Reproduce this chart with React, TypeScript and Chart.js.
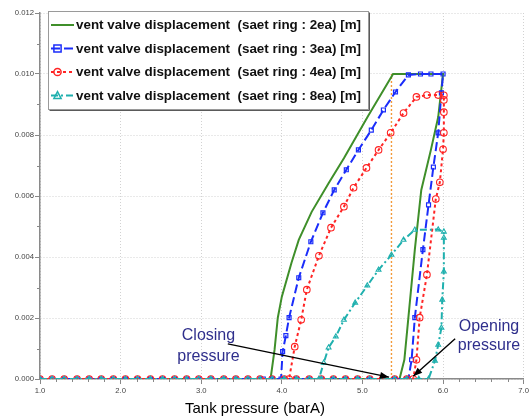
import React, { useEffect, useRef } from 'react';
import { Chart, registerables } from 'chart.js';

Chart.register(...registerables);

// ---------- data ----------
const SERIES_LABELS = [
  'vent valve displacement  (saet ring : 2ea) [m]',
  'vent valve displacement  (saet ring : 3ea) [m]',
  'vent valve displacement  (saet ring : 4ea) [m]',
  'vent valve displacement  (saet ring : 8ea) [m]',
];

// sampled tank pressures along the closed-valve baseline (displacement 0)
const BASE_X = [
  1.0, 1.15, 1.3, 1.46, 1.61, 1.76, 1.91, 2.06, 2.21, 2.37, 2.52, 2.67, 2.82, 2.97,
  3.12, 3.28, 3.43, 3.58, 3.73, 3.88, 4.03, 4.18, 4.34, 4.49, 4.64, 4.79, 4.94,
  5.09, 5.25, 5.4, 5.55, 5.7,
];

// saet ring : 2ea
const RING2_X = [5.46, 5.52, 5.57, 5.65, 5.73, 5.85, 5.94, 6.0, 5.38, 5.07, 4.77, 4.58, 4.37, 4.21, 4.12, 4.0, 3.95, 3.91, 3.86];
const RING2_Y = [0, 0.00063, 0.00201, 0.00424, 0.0062, 0.00752, 0.00859, 0.01, 0.01, 0.00862, 0.00724, 0.00642, 0.00548, 0.00456, 0.00381, 0.0027, 0.00201, 0.00096, 0];

// saet ring : 3ea
const RING3_X = [5.57, 5.61, 5.65, 5.75, 5.82, 5.88, 5.94, 5.98, 6.0, 5.85, 5.72, 5.57, 5.41, 5.26, 5.11, 4.95, 4.8, 4.65, 4.51, 4.36, 4.21, 4.09, 4.05, 4.01, 3.99, 3.88, 3.77];
const RING3_Y = [0, 0.00063, 0.00201, 0.00424, 0.00571, 0.00695, 0.00807, 0.00938, 0.01, 0.01, 0.01, 0.00997, 0.00941, 0.00882, 0.00816, 0.00751, 0.00686, 0.0062, 0.00545, 0.0045, 0.00332, 0.00201, 0.00142, 0.0009, 0, 0, 0];

// saet ring : 4ea
const RING4_X = [5.63, 5.67, 5.71, 5.8, 5.91, 5.96, 6.0, 6.01, 6.01, 6.01, 6.01, 5.94, 5.8, 5.67, 5.51, 5.35, 5.2, 5.05, 4.89, 4.77, 4.61, 4.46, 4.31, 4.24, 4.16, 4.09];
const RING4_Y = [0, 0.00063, 0.00201, 0.00342, 0.0059, 0.00645, 0.00753, 0.00807, 0.00875, 0.00915, 0.0093, 0.00931, 0.00931, 0.00925, 0.00872, 0.00807, 0.00751, 0.00692, 0.00627, 0.00565, 0.00496, 0.00404, 0.00293, 0.00194, 0.00106, 0];

// saet ring : 8ea
const RING8_X = [5.82, 5.9, 5.94, 5.98, 5.99, 6.01, 6.01, 6.01, 5.94, 5.65, 5.51, 5.36, 5.2, 5.06, 4.91, 4.77, 4.67, 4.58, 4.52, 4.46];
const RING8_Y = [0, 0.0006, 0.00112, 0.00168, 0.0026, 0.00352, 0.00463, 0.00483, 0.0049, 0.00489, 0.00456, 0.00407, 0.00358, 0.00306, 0.0025, 0.00194, 0.00139, 0.00103, 0.00053, 0];

// dotted marker line
const MARK_X = [5.36, 5.36];
const MARK_Y = [0, 0.01];

const X_MIN = 1, X_MAX = 7, X_STEP = 1, X_MINOR = 0.2;
const Y_MIN = 0, Y_MAX = 0.012, Y_STEP = 0.002, Y_MINOR = 0.001;
const X_TITLE = 'Tank pressure (barA)';

const CLOSING_TEXT = ['Closing', 'pressure'];
const OPENING_TEXT = ['Opening', 'pressure'];

// ---------- styling ----------
const FONT = '"Liberation Sans", Arial, sans-serif';
const COLORS = ['#3f8f2a', '#1b2dfa', '#ff2424', '#1fb0ae'];
const ORANGE = '#f39a3a';
const ANNOT_COLOR = '#2f2f8c';

function buildSeries(xs: number[], ys: number[]) {
  const start = xs[0];
  const pts = BASE_X.filter((v) => v < start - 0.02).map((v) => ({ x: v, y: 0 }));
  return pts.concat(xs.map((v, i) => ({ x: v, y: ys[i] })));
}

function drawMarker(ctx: CanvasRenderingContext2D, style: string, x: number, y: number, r: number) {
  ctx.beginPath();
  if (style === 'rect') {
    ctx.rect(x - r, y - r, 2 * r, 2 * r);
  } else if (style === 'circle') {
    ctx.arc(x, y, r, 0, Math.PI * 2);
  } else if (style === 'triangle') {
    ctx.moveTo(x, y - r * 1.1);
    ctx.lineTo(x + r, y + r * 0.8);
    ctx.lineTo(x - r, y + r * 0.8);
    ctx.closePath();
  }
  ctx.stroke();
}

function arrow(ctx: CanvasRenderingContext2D, x1: number, y1: number, x2: number, y2: number) {
  ctx.beginPath();
  ctx.moveTo(x1, y1);
  ctx.lineTo(x2, y2);
  ctx.stroke();
  const a = Math.atan2(y2 - y1, x2 - x1);
  const L = 9, W = 3.5;
  ctx.beginPath();
  ctx.moveTo(x2, y2);
  ctx.lineTo(x2 - L * Math.cos(a) + W * Math.sin(a), y2 - L * Math.sin(a) - W * Math.cos(a));
  ctx.lineTo(x2 - L * Math.cos(a) - W * Math.sin(a), y2 - L * Math.sin(a) + W * Math.cos(a));
  ctx.closePath();
  ctx.fill();
}

const overlayPlugin = {
  id: 'overlay',
  afterDraw(chart: any) {
    const { ctx, scales } = chart;
    const xs = scales.x, ys = scales.y;
    ctx.save();

    // minor ticks
    ctx.strokeStyle = '#888';
    ctx.lineWidth = 1;
    ctx.setLineDash([]);
    const nx = Math.round((X_MAX - X_MIN) / X_MINOR);
    for (let i = 1; i < nx; i++) {
      const v = X_MIN + i * X_MINOR;
      if (Math.abs(v - Math.round(v)) < 1e-6) continue;
      const px = Math.round(xs.getPixelForValue(v)) + 0.5;
      ctx.beginPath();
      ctx.moveTo(px, ys.bottom);
      ctx.lineTo(px, ys.bottom + 3);
      ctx.stroke();
    }
    const ny = Math.round((Y_MAX - Y_MIN) / Y_MINOR);
    for (let i = 1; i < ny; i += 2) {
      const v = Y_MIN + i * Y_MINOR;
      const py = Math.round(ys.getPixelForValue(v)) + 0.5;
      ctx.beginPath();
      ctx.moveTo(xs.left, py);
      ctx.lineTo(xs.left - 3, py);
      ctx.stroke();
    }

    // annotations
    ctx.fillStyle = ANNOT_COLOR;
    ctx.font = '16px ' + FONT;
    ctx.textAlign = 'center';
    ctx.textBaseline = 'middle';
    ctx.fillText(CLOSING_TEXT[0], xs.getPixelForValue(3.09), ys.getPixelForValue(0.00142));
    ctx.fillText(CLOSING_TEXT[1], xs.getPixelForValue(3.09), ys.getPixelForValue(0.00075));
    ctx.fillText(OPENING_TEXT[0], xs.getPixelForValue(6.57), ys.getPixelForValue(0.00171));
    ctx.fillText(OPENING_TEXT[1], xs.getPixelForValue(6.57), ys.getPixelForValue(0.00108));

    ctx.strokeStyle = '#000';
    ctx.fillStyle = '#000';
    ctx.lineWidth = 1.4;
    arrow(ctx, xs.getPixelForValue(3.33), ys.getPixelForValue(0.00115), xs.getPixelForValue(5.33), ys.getPixelForValue(0.00006));
    arrow(ctx, xs.getPixelForValue(6.15), ys.getPixelForValue(0.00132), xs.getPixelForValue(5.63), ys.getPixelForValue(0.00009));

    // x title
    ctx.fillStyle = '#000';
    ctx.font = '15px ' + FONT;
    ctx.textAlign = 'center';
    ctx.textBaseline = 'middle';
    ctx.fillText(X_TITLE, 255, 409);

    // legend box
    const bx = 48.5, by = 11.5, bw = 320, bh = 98;
    ctx.fillStyle = '#fff';
    ctx.fillRect(bx, by, bw, bh);
    ctx.strokeStyle = '#5a5a5a';
    ctx.lineWidth = 1;
    ctx.beginPath();
    ctx.moveTo(bx + bw + 1, by + 1);
    ctx.lineTo(bx + bw + 1, by + bh + 1);
    ctx.lineTo(bx + 1, by + bh + 1);
    ctx.stroke();
    ctx.strokeStyle = '#9a9a9a';
    ctx.strokeRect(bx, by, bw, bh);

    const rowY = [25, 48.5, 72, 95.5];
    const ds = chart.data.datasets;
    for (let i = 0; i < 4; i++) {
      const d = ds[i];
      const yy = rowY[i];
      ctx.strokeStyle = d.borderColor;
      ctx.lineWidth = d.borderWidth;
      ctx.setLineDash(d.borderDash || []);
      ctx.beginPath();
      ctx.moveTo(51, yy);
      ctx.lineTo(74, yy);
      ctx.stroke();
      ctx.setLineDash([]);
      if (d.pointRadius > 0) {
        ctx.lineWidth = 1.5;
        ctx.fillStyle = '#fff';
        drawMarker(ctx, d.pointStyle, 57.5, yy, 3.6);
      }
      ctx.fillStyle = '#111';
      ctx.font = 'bold 13.4px ' + FONT;
      ctx.textAlign = 'left';
      ctx.textBaseline = 'middle';
      ctx.fillText(d.label, 76, yy + 0.5);
    }
    ctx.restore();
  },
};

export default function App() {
  const ref = useRef<HTMLCanvasElement | null>(null);

  useEffect(() => {
    if (!ref.current) return;
    const transparent = 'rgba(255,255,255,0)';
    const chart = new Chart(ref.current, {
      type: 'scatter',
      data: {
        datasets: [
          {
            label: SERIES_LABELS[0],
            data: buildSeries(RING2_X, RING2_Y),
            showLine: true,
            borderColor: COLORS[0],
            backgroundColor: COLORS[0],
            borderWidth: 2,
            pointRadius: 0,
            pointStyle: 'line',
            order: 4,
          },
          {
            label: SERIES_LABELS[1],
            data: buildSeries(RING3_X, RING3_Y),
            showLine: true,
            borderColor: COLORS[1],
            backgroundColor: transparent,
            borderWidth: 2,
            borderDash: [9, 4],
            pointRadius: 2.8,
            pointStyle: 'rect',
            pointBorderWidth: 1.2,
            pointBorderColor: COLORS[1],
            pointBackgroundColor: transparent,
            order: 3,
          },
          {
            label: SERIES_LABELS[2],
            data: buildSeries(RING4_X, RING4_Y),
            showLine: true,
            borderColor: COLORS[2],
            backgroundColor: transparent,
            borderWidth: 2,
            borderDash: [3, 3],
            pointRadius: 3.3,
            pointStyle: 'circle',
            pointBorderWidth: 1.1,
            pointBorderColor: COLORS[2],
            pointBackgroundColor: transparent,
            order: 2,
          },
          {
            label: SERIES_LABELS[3],
            data: buildSeries(RING8_X, RING8_Y),
            showLine: true,
            borderColor: COLORS[3],
            backgroundColor: transparent,
            borderWidth: 2,
            borderDash: [7, 3, 2, 3],
            pointRadius: 2.8,
            pointStyle: 'triangle',
            pointBorderWidth: 1.1,
            pointBorderColor: COLORS[3],
            pointBackgroundColor: transparent,
            order: 1,
          },
          {
            label: 'marker',
            data: MARK_X.map((v, i) => ({ x: v, y: MARK_Y[i] })),
            showLine: true,
            borderColor: ORANGE,
            backgroundColor: ORANGE,
            borderWidth: 1.4,
            borderDash: [2, 2],
            pointRadius: 0,
            order: 5,
          },
        ],
      },
      options: {
        responsive: false,
        animation: false,
        devicePixelRatio: 1,
        layout: { padding: { top: 13, right: 5, left: 0, bottom: 0 } },
        plugins: {
          legend: { display: false },
          tooltip: { enabled: false },
          title: { display: false },
        },
        elements: { line: { tension: 0 } },
        scales: {
          x: {
            type: 'linear',
            min: X_MIN,
            max: X_MAX,
            afterFit: (s: any) => { s.height = 38; },
            ticks: {
              stepSize: X_STEP,
              autoSkip: false,
              maxRotation: 0,
              padding: 2,
              color: '#444',
              font: { size: 7.7, family: FONT },
              callback: (v: any) => Number(v).toFixed(1),
            },
            grid: { color: '#d2d2d2', lineWidth: 1, tickColor: '#888', tickLength: 5 },
            border: { color: '#8a8a8a', width: 1.5, dash: [1, 2] },
          },
          y: {
            type: 'linear',
            min: Y_MIN,
            max: Y_MAX,
            afterFit: (s: any) => { s.width = 40; },
            ticks: {
              stepSize: Y_STEP,
              autoSkip: false,
              padding: 1,
              color: '#444',
              font: { size: 7.7, family: FONT },
              callback: (v: any) => Number(v).toFixed(3),
            },
            grid: { color: '#d2d2d2', lineWidth: 1, tickColor: '#888', tickLength: 5 },
            border: { color: '#8a8a8a', width: 1.5, dash: [1, 2] },
          },
        },
      },
      plugins: [overlayPlugin],
    } as any);
    return () => chart.destroy();
  }, []);

  return (
    <div style={{ position: 'absolute', left: 0, top: 0, width: 531, height: 417, background: '#fff' }}>
      <canvas ref={ref} width={531} height={417} style={{ width: 531, height: 417 }} />
    </div>
  );
}
